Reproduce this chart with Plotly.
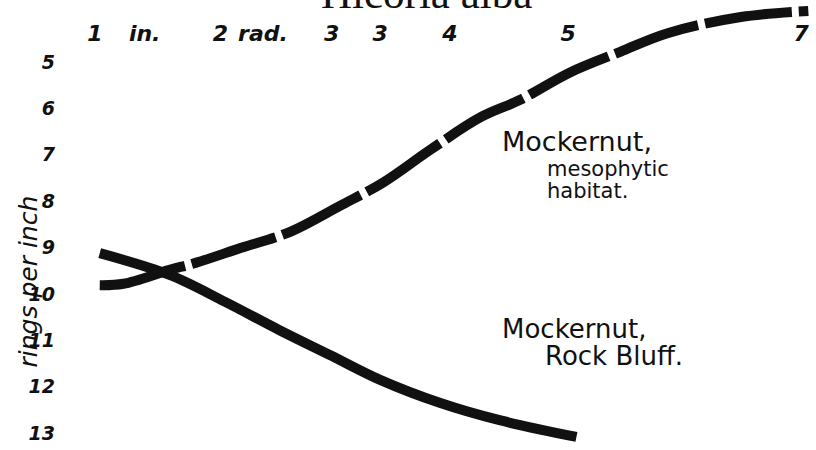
import plotly.graph_objects as go

# Hicoria alba - rings per inch against distance from pith
INK = '#111111'

# x tick labels along the top (inches of radius)
x_tick_vals = [1, 1.42, 2.06, 2.42, 3, 3.41, 4, 5, 6.97]
x_tick_text = ['1', 'in.', '2', 'rad.', '3', '3', '4', '5', '7']
y_tick_vals = [5, 6, 7, 8, 9, 10, 11, 12, 13]

# Mockernut, mesophytic habitat (dashed)
meso_x = [1.04, 1.24, 1.63, 1.85, 2.23, 2.65, 3.07, 3.44, 3.83, 4.26, 4.59, 5.02, 5.44, 5.84, 6.46, 7.03]
meso_y = [9.81, 9.78, 9.48, 9.33, 9.01, 8.66, 8.10, 7.59, 6.90, 6.19, 5.82, 5.22, 4.78, 4.38, 4.03, 3.90]

# Mockernut, Rock Bluff (solid)
bluff_x = [1.04, 1.63, 2.10, 2.56, 2.99, 3.41, 3.92, 4.42, 5.07]
bluff_y = [9.12, 9.59, 10.17, 10.78, 11.32, 11.85, 12.35, 12.72, 13.08]

fig = go.Figure()

fig.add_trace(go.Scatter(
    x=meso_x, y=meso_y, mode='lines', line_shape='spline',
    line=dict(color=INK, width=10, dash='88px,7px'),
    name='Mockernut, mesophytic habitat', showlegend=False
))
fig.add_trace(go.Scatter(
    x=bluff_x, y=bluff_y, mode='lines', line_shape='spline',
    line=dict(color=INK, width=10),
    name='Mockernut, Rock Bluff', showlegend=False
))

label_font = dict(family='DejaVu Sans', color=INK)
labels = [
    ('Mockernut,', 4.42, 6.72, 27),
    ('mesophytic', 4.80, 7.30, 21),
    ('habitat.', 4.80, 7.78, 21),
    ('Mockernut,', 4.42, 10.75, 26),
    ('Rock Bluff.', 4.79, 11.33, 26),
]
for text, lx, ly, size in labels:
    fig.add_annotation(
        x=lx, y=ly, text=text, showarrow=False,
        xanchor='left', yanchor='middle',
        font=dict(size=size, **label_font)
    )

# title, mostly cut off by the top edge
fig.add_annotation(
    xref='paper', yref='paper', x=0.485, y=0.958,
    text='Hicoria alba', showarrow=False,
    xanchor='center', yanchor='bottom',
    font=dict(family='Liberation Serif', size=43, color=INK)
)

# y axis title
fig.add_annotation(
    xref='paper', yref='paper', x=-0.042, y=0.375,
    text='rings per inch', showarrow=False, textangle=-90,
    xanchor='center', yanchor='middle',
    font=dict(family='DejaVu Sans', size=25, color=INK, style='italic')
)

fig.update_layout(
    width=816, height=450,
    margin=dict(l=60, r=0, t=0, b=0),
    plot_bgcolor='white', paper_bgcolor='white',
    xaxis=dict(
        range=[0.704, 7.095], side='top', anchor='free', position=0.9,
        automargin=False,
        tickvals=x_tick_vals, ticktext=x_tick_text,
        showgrid=False, zeroline=False, showline=False, ticks='',
        tickfont=dict(family='DejaVu Sans', size=22, color=INK,
                      style='italic', weight='bold')
    ),
    yaxis=dict(
        range=[13.362, 3.664], automargin=False,
        tickvals=y_tick_vals,
        showgrid=False, zeroline=False, showline=False, ticks='',
        ticklabelstandoff=4,
        tickfont=dict(family='DejaVu Sans', size=19, color=INK,
                      style='italic', weight='bold')
    ),
)

# drop the browser's default body margin so the figure sits at the corner
fig.write_html('out.html', config={'displayModeBar': False},
               post_script="document.body.style.margin='0';")
